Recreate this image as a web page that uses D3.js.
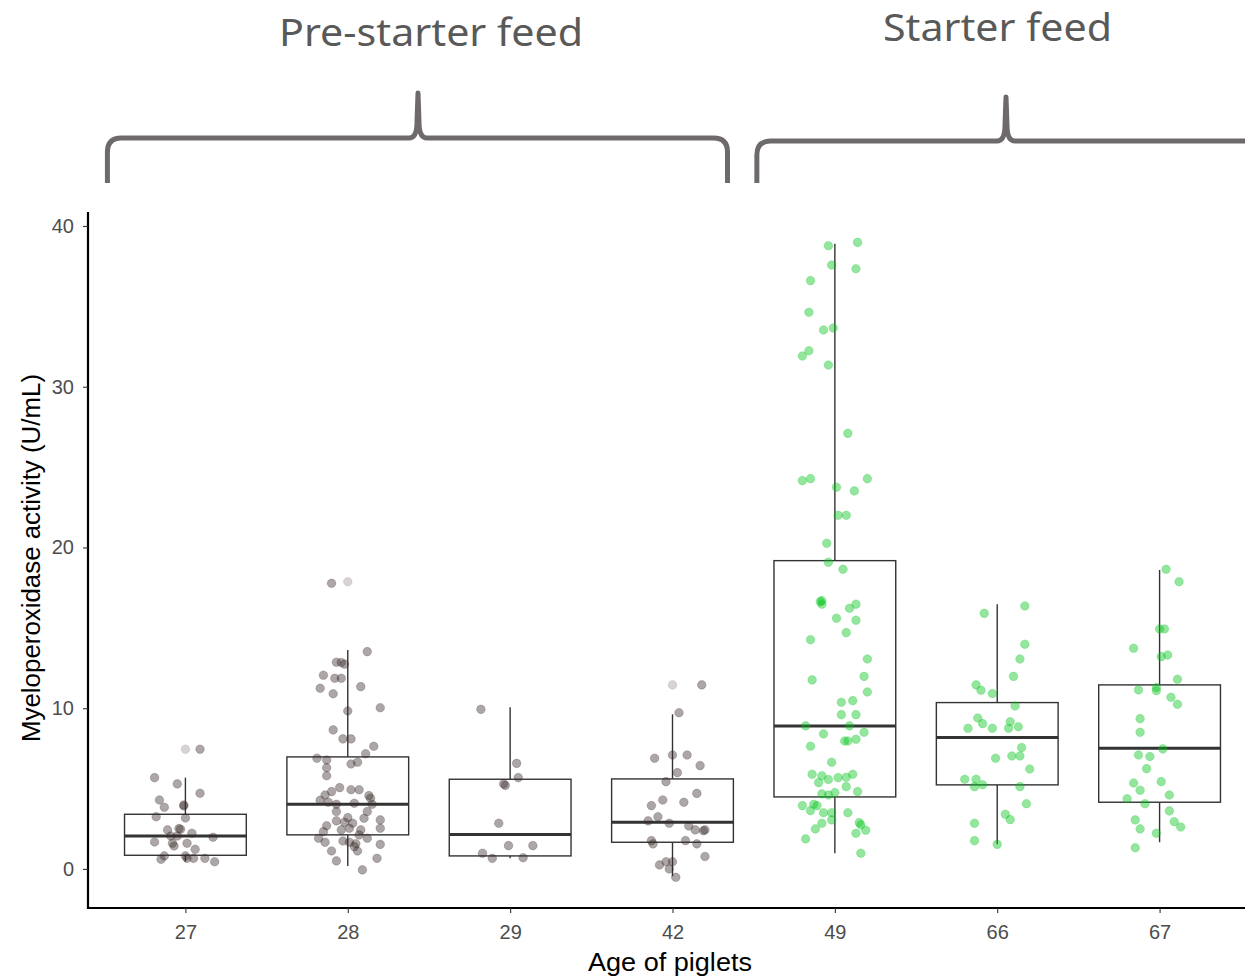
<!DOCTYPE html>
<html><head><meta charset="utf-8">
<script src="https://cdn.jsdelivr.net/npm/d3@7"></script>
<style>body{margin:0;background:#fff}</style>
</head><body><svg id="c" width="1245" height="979"></svg>
<script>
// ---------------- data ----------------
const categories = ["27","28","29","42","49","66","67"];
const feedOf = ["pre","pre","pre","pre","starter","starter","starter"];
const feedLabels = ["Pre-starter feed","Starter feed"];
const yTicks = [0,10,20,30,40];
// [lower whisker, Q1, median, Q3, upper whisker]
const boxStats = [
  [0.45, 0.85, 2.05, 3.40, 5.68],
  [0.19, 2.12, 4.02, 6.97, 13.62],
  [0.66, 0.81, 2.14, 5.58, 10.06],
  [-0.45, 1.66, 2.90, 5.60, 9.62],
  [0.98, 4.48, 8.90, 19.18, 38.9],
  [1.53, 5.23, 8.17, 10.35, 16.47],
  [1.66, 4.15, 7.51, 11.45, 18.60]
];
const outliers = [[7.45],[17.87],[],[11.45],[],[],[]];
// jittered observations: [value, horizontal jitter in category units]
const pts27 = [[7.45,0.09],[5.68,-0.19],[5.29,-0.05],[4.71,0.09],[4.29,-0.16],[3.84,-0.13],[3.98,-0.01],[3.92,-0.01],[3.25,-0.18],[3.17,0.00],[2.43,-0.11],[2.51,-0.04],[2.05,-0.05],[2.05,-0.09],[2.22,0.04],[1.97,0.17],[1.68,-0.19],[1.43,-0.07],[1.60,0.01],[1.22,0.06],[0.81,-0.13],[0.60,-0.15],[0.81,0.00],[0.66,0.01],[0.66,0.05],[0.66,0.12],[0.45,0.18],[2.47,-0.03],[1.60,-0.08]];
const pts28 = [[17.77,-0.10],[13.52,0.12],[12.86,-0.07],[12.84,-0.04],[12.74,-0.02],[12.05,-0.15],[11.86,-0.08],[11.86,-0.04],[11.24,-0.17],[10.90,-0.09],[11.34,0.08],[10.03,0.20],[9.83,0.00],[8.65,-0.09],[8.09,-0.03],[8.09,0.02],[7.63,0.16],[7.17,0.11],[6.89,-0.19],[6.78,-0.13],[6.30,-0.13],[5.80,-0.13],[6.53,0.02],[6.64,0.06],[5.06,-0.05],[4.93,0.02],[4.93,0.07],[4.81,-0.10],[4.60,-0.14],[4.27,-0.17],[4.56,0.13],[4.40,0.14],[4.02,-0.07],[4.09,0.04],[4.02,0.15],[4.15,-0.12],[3.57,-0.07],[3.57,0.12],[3.19,0.00],[2.99,-0.07],[2.90,-0.02],[2.84,0.03],[3.15,0.10],[3.05,0.20],[2.53,0.20],[2.69,-0.13],[2.43,-0.04],[2.43,0.08],[2.32,-0.15],[2.53,0.01],[2.12,0.07],[1.91,0.12],[1.91,-0.18],[1.66,-0.14],[1.74,-0.03],[1.66,0.01],[1.57,0.05],[1.39,0.04],[1.12,0.06],[1.53,0.20],[1.12,-0.10],[0.50,-0.07],[0.66,0.18],[-0.06,0.09]];
const pts29 = [[9.93,-0.18],[6.57,0.04],[5.68,0.05],[5.29,-0.04],[5.20,-0.03],[2.84,-0.07],[1.45,-0.01],[1.45,0.14],[0.98,-0.17],[0.66,-0.11],[0.70,0.08]];
const pts42 = [[11.45,0.18],[9.72,0.04],[6.89,-0.11],[7.09,0.00],[7.09,0.09],[6.43,0.17],[5.99,0.03],[5.43,-0.04],[4.70,0.15],[4.29,-0.06],[4.15,0.07],[3.94,-0.13],[3.25,-0.09],[2.99,-0.15],[2.84,-0.02],[2.67,0.10],[2.43,0.14],[2.38,0.19],[2.43,0.20],[1.76,-0.13],[1.56,-0.12],[1.76,0.08],[1.56,0.15],[0.77,0.20],[0.25,-0.08],[0.45,-0.04],[0.45,0.00],[0.00,-0.02],[-0.52,0.02]];
const pts49 = [[38.77,-0.04],[38.98,0.14],[37.57,-0.02],[37.34,0.13],[36.60,-0.15],[34.63,-0.16],[33.53,-0.07],[33.65,-0.01],[32.24,-0.16],[31.91,-0.20],[31.35,-0.04],[27.10,0.08],[24.16,-0.20],[24.28,-0.15],[24.28,0.20],[23.75,0.01],[23.52,0.12],[22.00,0.02],[22.00,0.07],[20.26,-0.05],[19.08,-0.04],[18.64,0.05],[16.69,-0.08],[16.63,-0.09],[16.47,-0.08],[16.22,0.09],[16.47,0.13],[15.60,0.01],[15.47,0.13],[14.70,0.07],[14.26,-0.15],[13.06,0.20],[11.98,0.18],[11.76,-0.14],[11.01,0.20],[10.37,0.04],[10.47,0.11],[9.60,0.04],[9.60,0.13],[8.90,-0.18],[8.90,0.09],[8.50,0.18],[8.40,-0.07],[7.96,0.06],[7.96,0.08],[8.07,0.13],[7.63,-0.15],[6.64,-0.02],[5.89,-0.14],[5.80,-0.08],[5.37,-0.10],[5.56,-0.04],[5.68,0.02],[5.70,0.07],[5.89,0.11],[5.12,0.07],[4.81,0.14],[4.67,-0.08],[4.60,-0.04],[4.75,0.00],[3.94,-0.20],[4.02,-0.13],[3.94,-0.11],[3.63,-0.15],[3.50,-0.07],[3.50,-0.02],[3.50,0.08],[3.05,-0.02],[2.84,-0.08],[2.88,0.15],[2.74,0.16],[2.41,0.19],[2.49,-0.12],[2.22,0.13],[1.87,-0.18],[0.98,0.16]];
const pts66 = [[16.36,0.17],[15.90,-0.08],[13.98,0.17],[13.06,0.14],[11.98,0.10],[11.45,-0.13],[11.12,-0.10],[10.91,-0.03],[10.14,0.11],[9.39,-0.12],[9.04,-0.09],[8.75,-0.18],[8.75,-0.03],[9.16,0.08],[8.75,0.07],[8.85,0.13],[7.55,0.15],[6.89,-0.01],[7.03,0.09],[7.03,0.14],[6.22,0.20],[5.58,-0.20],[5.58,-0.13],[5.12,-0.14],[5.24,-0.09],[5.12,0.14],[4.06,0.18],[3.40,0.05],[3.07,0.08],[2.84,-0.14],[1.76,-0.14],[1.53,0.00]];
const pts67 = [[18.64,0.04],[17.87,0.12],[14.93,0.00],[14.93,0.03],[13.73,-0.16],[13.21,0.01],[13.31,0.05],[11.80,0.11],[11.14,-0.13],[11.28,-0.02],[11.09,-0.02],[10.68,0.07],[10.25,0.11],[9.35,-0.12],[8.50,-0.12],[7.47,0.02],[7.09,-0.13],[6.99,-0.06],[6.24,-0.08],[5.35,-0.16],[4.90,-0.12],[5.43,0.01],[4.60,0.06],[4.37,-0.20],[4.06,-0.09],[3.61,0.06],[3.05,-0.15],[2.49,-0.12],[2.94,0.09],[2.61,0.13],[2.22,-0.02],[1.32,-0.15]];
const pointSets = [pts27, pts28, pts29, pts42, pts49, pts66, pts67];

// ---------------- drawing ----------------
const svg = d3.select("#c");
const plot = {left: 88, right: 1257, top: 212, bottom: 908};
const x = d3.scalePoint().domain(categories).range([plot.left, plot.right]).padding(0.6);
const y = d3.scaleLinear().domain([-2.43, 40.87]).range([plot.bottom, plot.top]);
const step = x.step();
const boxW = 0.75 * step;
const fillFor = {pre: "rgb(58,42,42)", starter: "rgb(0,195,25)"};
const font = "'Liberation Sans', Arial, sans-serif";

// boxes
const g = svg.append("g");
categories.forEach((c, i) => {
  const [lo, q1, med, q3, hi] = boxStats[i];
  const cx = x(c);
  const bg = g.append("g").attr("stroke", "#333").attr("fill", "none");
  bg.append("line").attr("x1", cx).attr("x2", cx).attr("y1", y(q3)).attr("y2", y(hi)).attr("stroke-width", 1.4);
  bg.append("line").attr("x1", cx).attr("x2", cx).attr("y1", y(q1)).attr("y2", y(lo)).attr("stroke-width", 1.4);
  bg.append("rect").attr("x", cx - boxW/2).attr("width", boxW)
    .attr("y", y(q3)).attr("height", y(q1) - y(q3)).attr("fill", "#fff").attr("stroke-width", 1.4);
  bg.append("line").attr("x1", cx - boxW/2).attr("x2", cx + boxW/2).attr("y1", y(med)).attr("y2", y(med)).attr("stroke-width", 3);
  g.selectAll(null).data(outliers[i]).join("circle")
    .attr("cx", cx).attr("cy", d => y(d)).attr("r", 4.3)
    .attr("fill", fillFor[feedOf[i]]).attr("fill-opacity", 0.2)
    .attr("stroke", fillFor[feedOf[i]]).attr("stroke-opacity", 0.12).attr("stroke-width", 0.9);
});

// jitter points
categories.forEach((c, i) => {
  g.append("g").selectAll("circle").data(pointSets[i]).join("circle")
    .attr("cx", d => x(c) + d[1] * step)
    .attr("cy", d => y(d[0]))
    .attr("r", 4.3)
    .attr("fill", fillFor[feedOf[i]])
    .attr("fill-opacity", 0.42)
    .attr("stroke", fillFor[feedOf[i]])
    .attr("stroke-opacity", 0.25)
    .attr("stroke-width", 0.9);
});

// axes
const yAxis = svg.append("g").attr("transform", `translate(${plot.left},0)`)
  .call(d3.axisLeft(y).tickValues(yTicks).tickSize(5).tickSizeOuter(0).tickPadding(9));
const xAxis = svg.append("g").attr("transform", `translate(0,${plot.bottom})`)
  .call(d3.axisBottom(x).tickSize(5).tickSizeOuter(0).tickPadding(12));
[yAxis, xAxis].forEach(a => {
  a.select(".domain").attr("stroke", "#000").attr("stroke-width", 2.2);
  a.selectAll(".tick line").attr("stroke", "#333").attr("stroke-width", 1.1);
  a.selectAll(".tick text").attr("fill", "#4d4d4d")
    .style("font-family", font).style("font-size", "20px");
});
xAxis.select(".domain").attr("d", `M${plot.left - 1},0H${plot.right}`);
yAxis.select(".domain").attr("d", `M0,${plot.top}V${plot.bottom + 1}`);

// axis titles
svg.append("text").attr("x", 670).attr("y", 971)
  .attr("text-anchor", "middle").attr("fill", "#000")
  .attr("textLength", 164).attr("lengthAdjust", "spacingAndGlyphs")
  .style("font-family", font).style("font-size", "25px")
  .text("Age of piglets");
svg.append("text").attr("transform", `translate(40,558) rotate(-90)`)
  .attr("text-anchor", "middle").attr("fill", "#000")
  .attr("textLength", 368).attr("lengthAdjust", "spacingAndGlyphs")
  .style("font-family", font).style("font-size", "25px")
  .text("Myeloperoxidase activity (U/mL)");

// feed braces + labels
const braceColor = "#6e6a6a";
function bracePath(x0, x1, xm, yb, yh, yt) {
  return `M${x0},${yb} L${x0},${yh + 14} Q${x0},${yh} ${x0 + 14},${yh} L${xm - 9},${yh} Q${xm - 1},${yh} ${xm - 1},${yh - 16} L${xm},${yt} L${xm + 1},${yh - 16} Q${xm + 1},${yh} ${xm + 9},${yh} L${x1 - 14},${yh} Q${x1},${yh} ${x1},${yh + 14} L${x1},${yb}`;
}
const leftB = {x0: x("27") - 78, x1: x("42") + 55};
svg.append("path").attr("d", bracePath(leftB.x0, leftB.x1, 418, 183, 138, 93))
  .attr("fill", "none").attr("stroke", braceColor).attr("stroke-width", 5).attr("stroke-linejoin", "round");
const rightB = {x0: x("49") - 78};
svg.append("path").attr("d", `M${rightB.x0},183 L${rightB.x0},155 Q${rightB.x0},141 ${rightB.x0 + 14},141 L997,141 Q1005,141 1005,125 L1006,97 L1007,125 Q1007,141 1015,141 L1265,141`)
  .attr("fill", "none").attr("stroke", braceColor).attr("stroke-width", 5).attr("stroke-linejoin", "round");

svg.append("text").attr("x", 279).attr("y", 46).attr("fill", "#595959")
  .attr("textLength", 304).attr("lengthAdjust", "spacingAndGlyphs")
  .style("font-family", "'Noto Sans', 'Open Sans', sans-serif").style("font-size", "39px")
  .text(feedLabels[0]);
svg.append("text").attr("x", 883).attr("y", 41).attr("fill", "#595959")
  .attr("textLength", 229).attr("lengthAdjust", "spacingAndGlyphs")
  .style("font-family", "'Noto Sans', 'Open Sans', sans-serif").style("font-size", "39px")
  .text(feedLabels[1]);
</script></body></html>
